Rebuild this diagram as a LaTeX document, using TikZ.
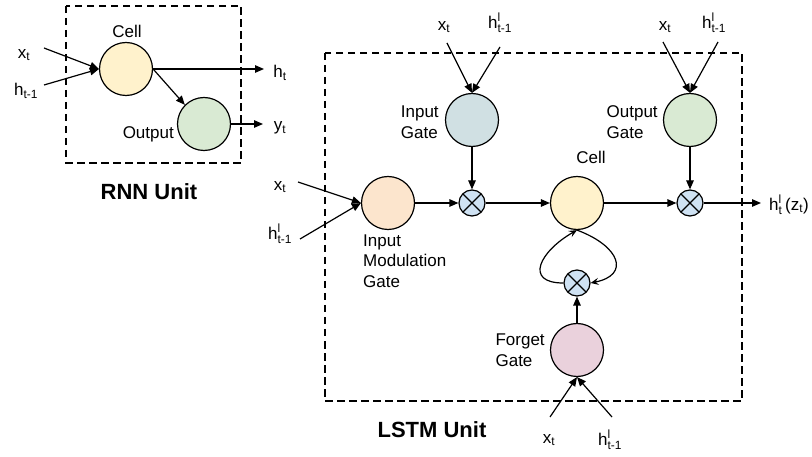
\documentclass[tikz,border=0pt]{standalone}
\usepackage{fontspec}
\setmainfont{Liberation Sans}
\usepackage{amsmath}
\usepackage{tikz}
\usetikzlibrary{arrows.meta,positioning}
\definecolor{cellyellow}{HTML}{FFF2CC}
\definecolor{outgreen}{HTML}{D9EAD3}
\definecolor{ingray}{HTML}{D0E0E3}
\definecolor{modorange}{HTML}{FCE5CD}
\definecolor{forgetpink}{HTML}{EAD1DC}
\definecolor{multblue}{HTML}{CFE2F3}
\newcommand{\xin}{x$_{\text{t}}$}
\newcommand{\hin}{h$^{\text{l}}_{\text{t-1}}$}
\tikzset{
  every node/.style={
    font=\fontsize{17}{20.5}\selectfont
  },
  unit/.style={
    shape=circle,
    draw,
    line width=1.2pt,
    fill=#1,
    minimum size=53pt,
    inner sep=0pt
  },
  mult/.style={
    shape=circle,
    draw,
    line width=1.2pt,
    fill=multblue,
    minimum size=26pt,
    inner sep=0pt,
    path picture={
      \draw[line width=1.2pt]
        (path picture bounding box.north west) -- (path picture bounding box.south east)
        (path picture bounding box.north east) -- (path picture bounding box.south west);
    }
  },
  lbl/.style={
    inner sep=0pt,
    align=left
  },
  title/.style={
    font=\fontsize{22}{26}\selectfont\bfseries
  },
  flow/.style={
    line width=1.2pt,
    -{Triangle[length=9pt,width=7.5pt]}
  },
  loopflow/.style={
    line width=1.2pt,
    -{Stealth[length=8pt,width=7pt,inset=3pt]}
  },
  frame/.style={
    line width=1.2pt,
    dash pattern=on 7.5pt off 4.5pt
  }
}
\begin{document}
\begin{tikzpicture}[x=1pt,y=-1pt]
\useasboundingbox (0,0) rectangle (812,457);

\draw[frame] (66,6) rectangle (241,163);
\node [unit=cellyellow] (rcell) at (126,69) {};
\node [unit=outgreen] (rout) at (204,124) {};
\node [lbl] (rcelllab) at (127,31) {Cell};
\node [lbl, anchor=east] (routlab) at (174,134) {Output};
\node [lbl] (rx) at (24,55) {\xin};
\node [lbl] (rh) at (26,91) {h$_{\text{t-1}}$};
\node [lbl] (rht) at (280,73) {h$_{\text{t}}$};
\node [lbl] (ryt) at (280,128) {y$_{\text{t}}$};
\node [title] (rnn) at (149,192) {RNN Unit};
\coordinate (rxs) at (44,48);
\coordinate (rhs) at (44,85);
\coordinate (rhe) at (264,69);
\coordinate (rye) at (263,124);
\draw[flow] (rxs) -- (rcell.west);
\draw[flow] (rhs) -- (rcell.west);
\draw[flow] (rcell.east) -- (rhe);
\draw[flow] (rcell.east) -- (rout.north west);
\draw[flow] (rout.east) -- (rye);

\draw[frame] (325,53) rectangle (742,401);
\node [unit=ingray] (igate) at (472,120) {};
\node [unit=modorange] (mgate) at (388,203) {};
\node [mult] (m1) at (472,203) {};
\node [unit=cellyellow] (cell) at (577,203) {};
\node [unit=outgreen] (ogate) at (690,120) {};
\node [mult] (m2) at (690,203) {};
\node [mult] (m3) at (577,283) {};
\node [unit=forgetpink] (fgate) at (577,350) {};

\node [lbl, left=6pt of igate, yshift=-2pt] (iglab) {Input\\Gate};
\node [lbl, left=5pt of ogate, yshift=-2pt] (oglab) {Output\\Gate};
\node [lbl] (celllab) at (591,157) {Cell};
\node [lbl, anchor=west] (mglab) at (363,261) {Input\\Modulation\\Gate};
\node [lbl, left=5pt of fgate] (fglab) {Forget\\Gate};
\node [title] (lstm) at (432,430) {LSTM Unit};

\node [lbl] (ix) at (444,27) {\xin};
\node [lbl] (ih) at (500,23) {\hin};
\node [lbl] (ox) at (665,27) {\xin};
\node [lbl] (oh) at (714,23) {\hin};
\node [lbl] (mx) at (280,187) {\xin};
\node [lbl] (mh) at (280,234) {\hin};
\node [lbl] (fx) at (549,440) {\xin};
\node [lbl] (fh) at (610,440) {\hin};
\node [lbl] (hout) at (789,205) {h$^{\text{l}}_{\text{t}}$\,(z$_{\text{t}}$)};

\coordinate (ixs) at (447,43);
\coordinate (ihs) at (500,47);
\coordinate (oxs) at (663,42);
\coordinate (ohs) at (718,42);
\coordinate (mxs) at (298,182);
\coordinate (mhs) at (300,239);
\coordinate (fxs) at (550,417);
\coordinate (fhs) at (612,417);
\coordinate (houts) at (761,203);

\draw[flow] (ixs) -- (igate.north);
\draw[flow] (ihs) -- (igate.north);
\draw[flow] (oxs) -- (ogate.north);
\draw[flow] (ohs) -- (ogate.north);
\draw[flow] (mxs) -- (mgate.west);
\draw[flow] (mhs) -- (mgate.west);
\draw[flow] (fxs) -- (fgate.south);
\draw[flow] (fhs) -- (fgate.south);

\draw[flow] (mgate.east) -- (m1.west);
\draw[flow] (igate.south) -- (m1.north);
\draw[flow] (m1.east) -- (cell.west);
\draw[flow] (cell.east) -- (m2.west);
\draw[flow] (ogate.south) -- (m2.north);
\draw[flow] (m2.east) -- (houts);
\draw[flow] (fgate.north) -- (m3.south);
\draw[loopflow] (m3.west) .. controls +(-40,0) and +(-37,21) .. (cell.south);
\draw[loopflow] (cell.south) .. controls +(43,16) and +(40,-8) .. (m3.east);

\end{tikzpicture}
\end{document}
